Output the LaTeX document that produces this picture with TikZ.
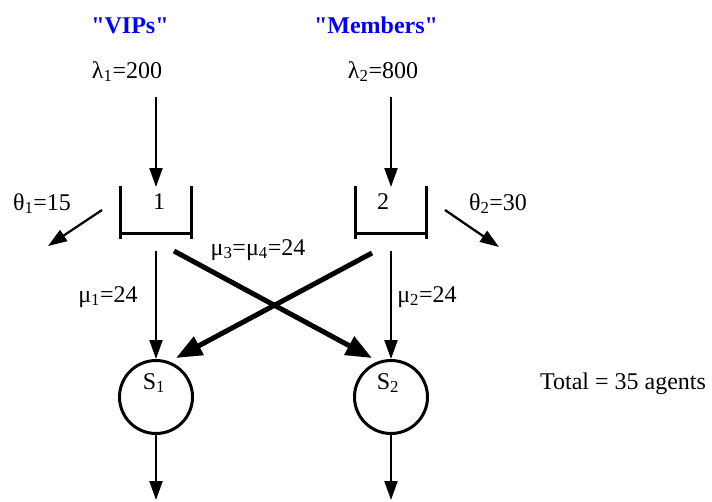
\documentclass[tikz,border=0pt]{standalone}
\usepackage{fontspec}
\setmainfont{Liberation Serif}
% a family without TeX ligatures, so that " stays a straight quote
\newfontfamily\titlefont{Liberation Serif}
\usetikzlibrary{arrows.meta}
\definecolor{titleblue}{RGB}{0,0,255}
\begin{document}
\begin{tikzpicture}[x=1pt,y=-1pt,
  every node/.style={font=\fontsize{24}{28}\selectfont, inner sep=0pt, anchor=base},
  title/.style={text=titleblue, font=\fontsize{24}{28}\selectfont\titlefont\bfseries},
  flow/.style={line width=2.3pt, -{Triangle[length=19pt,width=13pt]}},
  cross/.style={line width=5pt, -{Triangle[length=26pt,width=20pt]}},
  wall/.style={line width=3pt},
  server/.style={circle, draw, line width=3pt, minimum size=73pt, anchor=center},
]
\useasboundingbox (0,0) rectangle (712,501);

% customer classes and arrival rates
\node[title] (vip) at (130,33) {"VIPs"};
\node[title] (mem) at (376,33) {"Members"};
\node (lam1) at (127,78) {λ\textsubscript{1}=200};
\node (lam2) at (383,78) {λ\textsubscript{2}=800};

% queues
\node (q1) at (159,209) {1};
\node (q2) at (383,209) {2};
\draw[wall] (120,186) -- (120,239) (191,186) -- (191,239) (120,233) -- (191,233);
\draw[wall] (355,186) -- (355,239) (426,186) -- (426,239) (355,233) -- (426,233);

% abandonment
\node (th1) at (42,210) {θ\textsubscript{1}=15};
\node (th2) at (498,210) {θ\textsubscript{2}=30};

% service rates
\node (mu1) at (108,302) {μ\textsubscript{1}=24};
\node (mu2) at (427,302) {μ\textsubscript{2}=24};
\node (mu34) at (258,255) {μ\textsubscript{3}=μ\textsubscript{4}=24};

% servers
\node[server] (S1) at (156,397) {};
\node[server] (S2) at (391,397) {};
\node (s1lab) at (154,389) {S\textsubscript{1}};
\node (s2lab) at (388,389) {S\textsubscript{2}};
\node (total) at (623,389) {Total = 35 agents};

% connector end points
\coordinate (a1) at (156,97);   \coordinate (q1in) at (156,187);
\coordinate (a2) at (391,97);   \coordinate (q2in) at (391,187);
\coordinate (ab1) at (102,210); \coordinate (ab1e) at (48,246);
\coordinate (ab2) at (445,210); \coordinate (ab2e) at (499,247);
\coordinate (q1o) at (156,251); \coordinate (q2o) at (391,251);
\coordinate (q1x) at (174,251); \coordinate (q2x) at (372,253);
\coordinate (s1in) at (176,358); \coordinate (s2in) at (372,358);
\coordinate (out1) at (156,500); \coordinate (out2) at (391,500);

% arrivals
\draw[flow] (a1) -- (q1in);
\draw[flow] (a2) -- (q2in);
% abandonments
\draw[flow] (ab1) -- (ab1e);
\draw[flow] (ab2) -- (ab2e);
% dedicated service
\draw[flow] (q1o) -- (S1.north);
\draw[flow] (q2o) -- (S2.north);
% cross service
\draw[cross] (q1x) -- (s2in);
\draw[cross] (q2x) -- (s1in);
% departures
\draw[flow] (S1.south) -- (out1);
\draw[flow] (S2.south) -- (out2);
\end{tikzpicture}
\end{document}
